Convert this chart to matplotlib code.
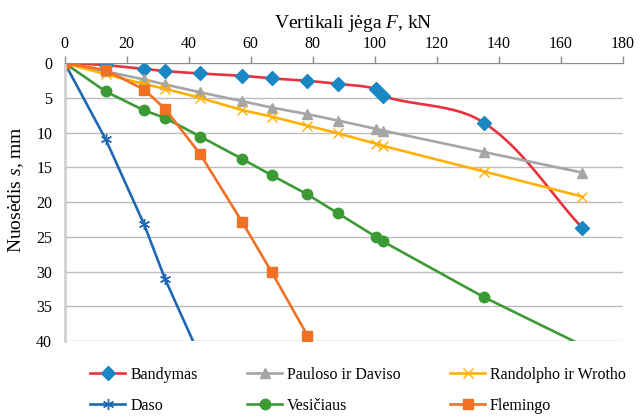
import numpy as np
import matplotlib.pyplot as plt
from matplotlib.ticker import MultipleLocator

plt.rcParams['font.family'] = ['Liberation Serif', 'DejaVu Serif']
plt.rcParams['mathtext.fontset'] = 'custom'
plt.rcParams['mathtext.rm'] = 'Liberation Serif'
plt.rcParams['mathtext.it'] = 'Liberation Serif:italic'

# apkrova, kN
jega = [0, 13.2, 25.6, 32.4, 43.7, 57.3, 66.8, 78.3, 88.1, 100.4, 102.6, 135.3, 166.9]

# nuosedis, mm
bandymas = [0, 0.29, 0.86, 1.15, 1.49, 1.82, 2.2, 2.55, 2.98, 3.7, 4.75, 8.6, 23.7]
pauloso = [0, 1.2, 2.35, 3.07, 4.2, 5.48, 6.4, 7.35, 8.26, 9.46, 9.7, 12.8, 15.75]
randolpho = [0, 1.6, 3.0, 3.7, 5.0, 6.77, 7.7, 9.0, 10.1, 11.6, 11.9, 15.6, 19.2]
daso = [0, 10.95, 23.2, 31.1, 42.3]
vesiciaus = [0, 4.08, 6.8, 7.9, 10.56, 13.8, 16.15, 18.9, 21.6, 25.0, 25.65, 33.7, 40.6]
flemingo = [0, 1.0, 3.8, 6.6, 13.1, 22.9, 30.1, 39.2, 47.0]

YMAX = 40


def smooth_line(ax, x, y, n=25):
    '''Bezier smoothing in screen space, returns curve in data units'''
    pts = ax.transData.transform(np.column_stack([x, y]))
    p = np.vstack([pts[0], pts, pts[-1]])
    t = np.linspace(0, 1, n)[1:, None]
    out = [pts[0]]
    for i in range(1, len(p) - 2):
        p0, p1, p2, p3 = p[i - 1], p[i], p[i + 1], p[i + 2]
        seg_len = np.linalg.norm(p2 - p1)
        d1 = p2 - p0
        d2 = p3 - p1
        c1 = p1 + d1 / np.linalg.norm(d1) * seg_len / 3
        c2 = p2 - d2 / np.linalg.norm(d2) * seg_len / 3
        seg = (1 - t)**3 * p1 + 3 * (1 - t)**2 * t * c1 + 3 * (1 - t) * t**2 * c2 + t**3 * p2
        out.extend(seg)
    curve = ax.transData.inverted().transform(np.array(out))
    marks = [i * (n - 1) for i in range(len(x))]
    return curve[:, 0], curve[:, 1], marks


def inside(y):
    # markers only for points inside the plot area
    return [i for i, v in enumerate(y) if v <= YMAX]


fig = plt.figure(figsize=(6.44, 4.18), dpi=100)
ax = fig.add_axes([0.1005, 0.184, 0.8665, 0.665])
ax.set_xlim(0, 180)
ax.set_ylim(YMAX, 0)

lw = 1.9
sx, sy, marks = smooth_line(ax, jega, bandymas)
ax.plot(sx, sy, color='#E8323C', lw=lw, marker='D', markevery=marks, ms=7.5,
        mfc='#1A87C2', mec='#1A87C2', label='Bandymas')
ax.plot(jega, pauloso, color='#A5A5A5', lw=lw, marker='^', ms=7.5,
        mfc='#A5A5A5', mec='#A5A5A5', label='Pauloso ir Daviso')
ax.plot(jega, randolpho, color='#FFB000', lw=lw, marker='x', ms=7,
        mew=1.0, label='Randolpho ir Wrotho')
ax.plot(jega[:len(daso)], daso, color='#1F68B3', lw=lw, marker=(6, 2, 0), ms=8,
        mew=1.0, markevery=inside(daso), label='Daso')
ax.plot(jega, vesiciaus, color='#3C9A34', lw=lw, marker='o', ms=7.5,
        markevery=inside(vesiciaus), label='Vesičiaus')
ax.plot(jega[:len(flemingo)], flemingo, color='#F07124', lw=lw, marker='s', ms=7,
        markevery=inside(flemingo), label='Flemingo')

ax.xaxis.tick_top()
ax.xaxis.set_label_position('top')
ax.xaxis.set_major_locator(MultipleLocator(20))
ax.yaxis.set_major_locator(MultipleLocator(5))
ax.tick_params(axis='x', direction='out', length=5, width=1, color='#8C8C8C',
               labelsize=11.5, pad=3)
ax.tick_params(axis='y', length=0, labelsize=11.5, pad=9)

ax.grid(axis='y', color='#BDBDBD', lw=1)
ax.set_axisbelow(True)
for side in ['bottom', 'right']:
    ax.spines[side].set_visible(False)
ax.spines['top'].set_color('#8C8C8C')
ax.spines['left'].set_color('#D0D0D0')
ax.spines['left'].set_linewidth(2)

ax.set_xlabel('Vertikali jėga $F$, kN', fontsize=14, labelpad=6)
ax.xaxis.label.set_x(0.517)
ax.set_ylabel('Nuosėdis $s$, mm', fontsize=14)
ax.yaxis.set_label_coords(-0.07, 0.545)

h, l = ax.get_legend_handles_labels()
order = [0, 3, 1, 4, 2, 5]
fig.legend([h[i] for i in order], [l[i] for i in order], ncol=3, frameon=False,
           loc='center', bbox_to_anchor=(0.556, 0.066), fontsize=11.5,
           handlelength=2.2, handletextpad=0.3, columnspacing=3.1,
           labelspacing=0.95)

fig.savefig('out.png', dpi=100)
